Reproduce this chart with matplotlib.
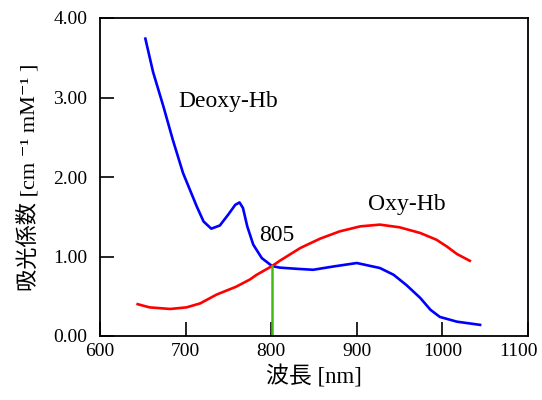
import matplotlib.pyplot as plt
from matplotlib.transforms import ScaledTranslation

# Deoxy-Hb (blue)
deoxy_nm = [653, 662, 674, 685, 697, 705, 713, 721, 730, 740, 750, 758, 763, 767,
            772, 779, 789, 801, 810, 830, 849, 873, 900, 927, 943, 958, 974, 986,
            997, 1017, 1044]
deoxy_val = [3.74, 3.32, 2.89, 2.47, 2.05, 1.84, 1.63, 1.44, 1.35, 1.39, 1.53, 1.65,
             1.68, 1.61, 1.38, 1.15, 0.98, 0.88, 0.86, 0.845, 0.833, 0.875, 0.918,
             0.855, 0.77, 0.64, 0.48, 0.33, 0.24, 0.18, 0.14]

# Oxy-Hb (red)
oxy_nm = [644, 658, 682, 701, 717, 736, 759, 775, 783, 801, 810, 834, 857, 880,
          904, 927, 950, 974, 993, 1005, 1017, 1032]
oxy_val = [0.40, 0.36, 0.34, 0.36, 0.41, 0.52, 0.62, 0.71, 0.77, 0.88, 0.946, 1.107,
           1.224, 1.316, 1.379, 1.401, 1.367, 1.296, 1.211, 1.127, 1.031, 0.946]

iso_nm = 801
iso_val = 0.88

xticks = [600, 700, 800, 900, 1000, 1100]
yticks = [0, 1, 2, 3, 4]

plt.rcParams['font.family'] = ['Liberation Serif', 'Noto Sans CJK JP', 'DejaVu Serif']

fig = plt.figure(figsize=(5.42, 4.0), dpi=100)
ax = fig.add_axes([0.1845, 0.16, 0.7897, 0.795])

ax.plot(deoxy_nm, deoxy_val, color='#0000ff', lw=1.9, solid_joinstyle='round')
ax.plot(oxy_nm, oxy_val, color='#ff0000', lw=1.9, solid_joinstyle='round')
ax.plot([iso_nm, iso_nm], [0, iso_val], color='#44bb11', lw=1.8)

ax.set_xlim(600, 1100)
ax.set_ylim(0, 4)
ax.set_xticks(xticks)
ax.set_yticks(yticks)
ax.set_yticklabels([f"{v:.2f}" for v in yticks])
ax.tick_params(direction='in', length=10, width=1.2, labelsize=14,
               top=False, right=False)
ax.tick_params(axis='y', pad=9)
ax.tick_params(axis='x', pad=5)
for s in ax.spines.values():
    s.set_linewidth(1.3)

# keep the last x label inside the figure, as in the original
last = ax.get_xticklabels()[-1]
last.set_transform(last.get_transform() + ScaledTranslation(-7 / 72, 0, fig.dpi_scale_trans))

ax.annotate('Deoxy-Hb', xy=(692, 2.95), fontsize=17, va='center', ha='left')
ax.annotate('Oxy-Hb', xy=(958, 1.65), fontsize=17, va='center', ha='center')
ax.annotate('805', xy=(807, 1.27), fontsize=17, va='center', ha='center')

ax.set_xlabel('波長 [nm]', fontsize=16.5, labelpad=4)
ax.set_ylabel('吸光係数 [cm ⁻¹ mM⁻¹ ]', fontsize=16, labelpad=10)

fig.savefig('out.png', dpi=100)
